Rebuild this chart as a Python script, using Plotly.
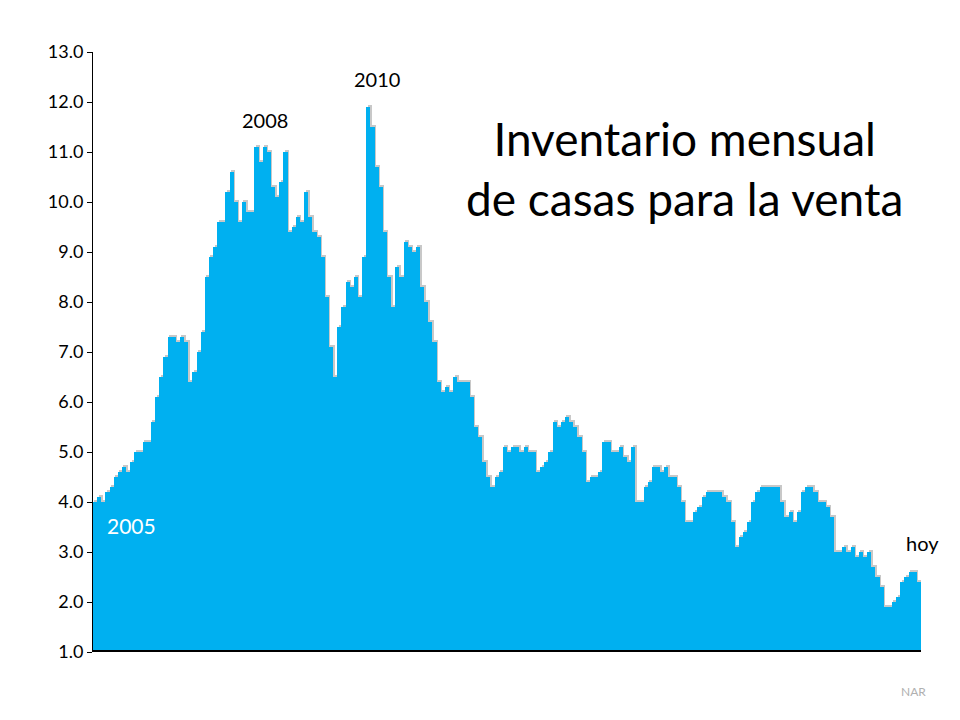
import plotly.graph_objects as go

# monthly inventory (months of supply), Jan 2005 .. Aug 2021
inv_2005_2010 = [4.0, 4.1, 4.0, 4.2, 4.3, 4.5, 4.6, 4.7, 4.6, 4.8,
                 5.0, 5.0, 5.2, 5.2, 5.6, 6.1, 6.5, 6.9, 7.3, 7.3,
                 7.2, 7.3, 7.2, 6.4, 6.6, 7.0, 7.4, 8.5, 8.9, 9.1,
                 9.6, 9.6, 10.2, 10.6, 10.0, 9.6, 10.0, 9.8, 9.8, 11.1,
                 10.8, 11.1, 11.0, 10.3, 10.1, 10.4, 11.0, 9.4, 9.5, 9.7,
                 9.6, 10.2, 9.7, 9.4, 9.3, 8.9, 8.1, 7.1, 6.5, 7.5,
                 7.9, 8.4, 8.3, 8.5, 8.1, 8.9, 11.9, 11.5, 10.7, 10.3,
                 9.4]
inv_2010_2016 = [8.5, 7.9, 8.7, 8.5, 9.2, 9.1, 9.0, 9.1, 8.3, 8.0,
                 7.6, 7.2, 6.4, 6.2, 6.3, 6.2, 6.5, 6.4, 6.4, 6.4,
                 6.1, 5.5, 5.3, 4.8, 4.5, 4.3, 4.5, 4.6, 5.1, 5.0,
                 5.1, 5.1, 5.0, 5.1, 5.0, 5.0, 4.6, 4.7, 4.8, 5.0,
                 5.6, 5.5, 5.6, 5.7, 5.6, 5.5, 5.3, 5.0, 4.4, 4.5,
                 4.5, 4.6, 5.2, 5.2, 5.0, 5.0, 5.1, 4.9, 4.8, 5.1,
                 4.0, 4.0, 4.3, 4.4, 4.7, 4.7]
inv_2016_2021 = [4.6, 4.7, 4.5, 4.5, 4.3, 4.0, 3.6, 3.6, 3.8, 3.9,
                 4.1, 4.2, 4.2, 4.2, 4.2, 4.1, 4.0, 3.6, 3.1, 3.3,
                 3.4, 3.6, 4.0, 4.2, 4.3, 4.3, 4.3, 4.3, 4.3, 4.0,
                 3.7, 3.8, 3.6, 3.8, 4.2, 4.3, 4.3, 4.2, 4.0, 4.0,
                 3.9, 3.7, 3.0, 3.0, 3.1, 3.0, 3.1, 2.9, 3.0, 2.9,
                 3.0, 2.7, 2.5, 2.3, 1.9, 1.9, 2.0, 2.1, 2.4, 2.5,
                 2.6, 2.6, 2.4]

inventory = inv_2005_2010 + inv_2010_2016 + inv_2016_2021
months = list(range(len(inventory)))
y_ticks = [1.0 + i for i in range(13)]

BASE = 1.0
font = "Lato"

fig = go.Figure()
# soft grey edge behind the bars
fig.add_trace(go.Bar(x=[m + 0.35 for m in months], y=[v - BASE + 0.05 for v in inventory], base=BASE,
                     marker=dict(color="#c8c8c8", line=dict(width=0)), hoverinfo="skip"))
fig.add_trace(go.Bar(x=months, y=[v - BASE for v in inventory], base=BASE,
                     marker=dict(color="#00B0F0", line=dict(width=0))))

fig.update_layout(
    width=960, height=720, barmode="overlay", bargap=0, showlegend=False,
    plot_bgcolor="white", paper_bgcolor="white",
    margin=dict(l=85, r=47, t=44, b=76),
    font=dict(family=font, color="black"),
    xaxis=dict(range=[-0.5, len(inventory) - 0.5], showticklabels=False, ticks="",
               showgrid=False, zeroline=False, showline=False),
    yaxis=dict(range=[1.0, 13.0], tickvals=y_ticks, tickformat=".1f", ticks="outside",
               ticklen=5, tickcolor="black", showline=True, linecolor="black", linewidth=1,
               showgrid=False, zeroline=False, tickfont=dict(size=18, family=font)),
)

fig.add_shape(type="line", xref="paper", yref="y", x0=0, x1=1, y0=1.0, y1=1.0,
              line=dict(color="black", width=4))

def note(text, px, py, size=20, color="black"):
    fig.add_annotation(text=text, xref="paper", yref="paper",
                       x=(px - 92) / 828, y=(651 - py) / 600, showarrow=False,
                       xanchor="center", yanchor="middle",
                       font=dict(size=size, color=color, family=font))

note("2005", 130, 524, 21, "white")
note("2008", 264, 119)
note("2010", 376, 78)
note("hoy", 921, 542)
note("Inventario mensual<br>de casas para la venta", 683, 168, 46)
note("NAR", 912, 690, 12, "#b0b0b0")

fig.write_html("out.html")
